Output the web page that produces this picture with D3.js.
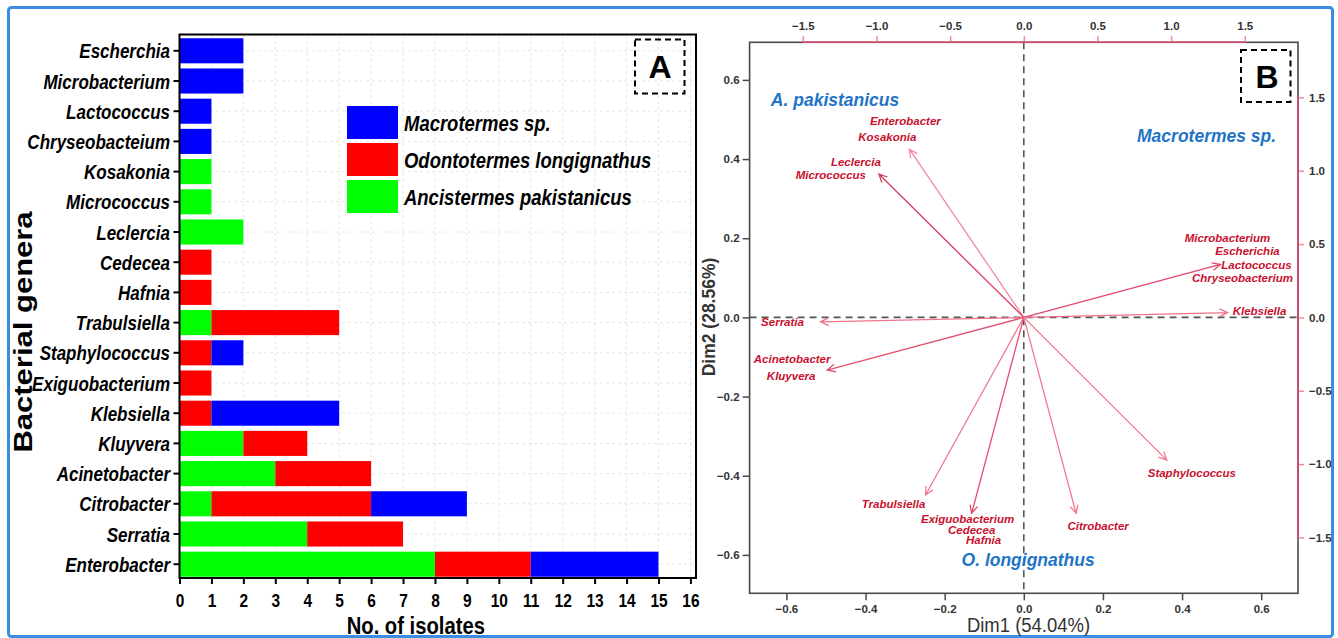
<!DOCTYPE html>
<html><head><meta charset="utf-8">
<script src="https://cdn.jsdelivr.net/npm/d3@7"></script>
<style>
html,body{margin:0;padding:0;background:#fff;}
svg{display:block;}
</style></head><body>
<svg id="chart" width="1338" height="638"></svg>
<script>
// ---------- Panel A: isolates per genus, stacked by termite host ----------
const genera = ["Escherchia","Microbacterium","Lactococcus","Chryseobacteium","Kosakonia","Micrococcus",
  "Leclercia","Cedecea","Hafnia","Trabulsiella","Staphylococcus","Exiguobacterium","Klebsiella",
  "Kluyvera","Acinetobacter","Citrobacter","Serratia","Enterobacter"];
const ancistermes  = [0,0,0,0,1,1,2,0,0,1,0,0,0,2,3,1,4,8];
const odontotermes = [0,0,0,0,0,0,0,1,1,4,1,1,1,2,3,5,3,3];
const macrotermes  = [2,2,1,1,0,0,0,0,0,0,1,0,4,0,0,3,0,4];
const hostNames = ["Macrotermes sp.","Odontotermes longignathus","Ancistermes pakistanicus"];
const isolateTicks = d3.range(0, 17);

// ---------- Panel B: PCA biplot ----------
const dimTicks = [-0.6,-0.4,-0.2,0.0,0.2,0.4,0.6];
const loadingTicks = [-1.5,-1.0,-0.5,0.0,0.5,1.0,1.5];
const arrowGroups = [["Enterobacter","Kosakonia"],["Leclercia","Micrococcus"],
  ["Microbacterium","Escherichia","Lactococcus","Chryseobacterium"],["Klebsiella"],["Serratia"],
  ["Acinetobacter","Kluyvera"],["Trabulsiella"],["Exiguobacterium","Cedecea","Hafnia"],
  ["Citrobacter"],["Staphylococcus"]];
const loading1 = [-0.777,-0.984, 1.335, 1.383,-1.380,-1.335,-0.667,-0.354, 0.355, 0.971];
const loading2 = [ 1.147, 0.977, 0.361, 0.033,-0.030,-0.359,-1.211,-1.336,-1.336,-0.973];
const hostTags = ["A. pakistanicus","Macrotermes sp.","O. longignathus"];

// layout: label offsets (px) from each arrow tip, per group
const labelOffsets = [
  [[-4,-28],[-22,-12]],
  [[-23,-12],[-48,1]],
  [[7,-26],[27,-13],[36,1],[22,14]],
  [[32,-2]],
  [[-38,0]],
  [[-35,-11],[-36,6]],
  [[-32,9]],
  [[-4,6],[0,17],[12,27]],
  [[22,13]],
  [[25,13]]
];
const arrowColors = ["#f2899d","#d63a5c","#e6456b","#f0728c","#f0728c","#e2506f","#f07a92","#e84a6c","#f07a92","#f07a92"];
// host tag placement in Dim units
const hostTagDim1 = [-0.477, 0.462, 0.011];
const hostTagDim2 = [ 0.549, 0.458,-0.611];

const SANS = "'Liberation Sans',Arial,sans-serif";
const svg = d3.select("#chart");

// text squeezed horizontally (panel A lettering is tall and narrow)
function squeezed(sel, x, y, sx, sy) {
  return sel.attr("x", 0).attr("y", 0)
    .attr("transform", `translate(${x},${y}) scale(${sx},${sy || 1})`);
}

// outer frame
svg.append("rect").attr("x",8.5).attr("y",7.5).attr("width",1324).attr("height",629)
  .attr("rx",3).attr("fill","none").attr("stroke","#3a8ee2").attr("stroke-width",3);

// ================= Panel A =================
const ax = d3.scaleLinear().domain([0,16.2]).range([179.5,696.8]);
const ay = d3.scaleBand().domain(genera).range([35.7,579.3]).paddingInner(0.17).paddingOuter(0.085);
const gA = svg.append("g");

// faint grid
gA.append("g").selectAll("line").data(isolateTicks.slice(1)).join("line")
  .attr("x1",d=>ax(d)).attr("x2",d=>ax(d)).attr("y1",35).attr("y2",577)
  .attr("stroke","#e6e6e6").attr("stroke-width",1).attr("stroke-dasharray","3,3");
gA.append("g").selectAll("line").data(genera).join("line")
  .attr("x1",180).attr("x2",695).attr("y1",d=>ay(d)+ay.bandwidth()/2).attr("y2",d=>ay(d)+ay.bandwidth()/2)
  .attr("stroke","#e6e6e6").attr("stroke-width",1).attr("stroke-dasharray","3,3");

// stacked bars: Ancistermes, then Odontotermes, then Macrotermes
const rows = genera.map((g,i)=>({genus:g, A:ancistermes[i], O:odontotermes[i], M:macrotermes[i]}));
const stack = d3.stack().keys(["A","O","M"])(rows);
const barColors = {A:"#00ff00", O:"#ff0000", M:"#0000ff"};
gA.append("g").selectAll("g").data(stack).join("g").attr("fill",s=>barColors[s.key])
  .selectAll("rect").data(s=>s.filter(d=>d[1]>d[0])).join("rect")
  .attr("x",d=>ax(d[0])).attr("width",d=>ax(d[1])-ax(d[0]))
  .attr("y",d=>ay(d.data.genus)).attr("height",ay.bandwidth());

// frame
gA.append("rect").attr("x",179.5).attr("y",34.5).attr("width",516.5).attr("height",543.5)
  .attr("fill","none").attr("stroke","#000").attr("stroke-width",2);

// y axis
const yAxisA = gA.append("g").attr("transform","translate(179.5,0)")
  .call(d3.axisLeft(ay).tickSize(6).tickPadding(3));
yAxisA.select(".domain").remove();
yAxisA.selectAll("line").attr("stroke","#000").attr("stroke-width",2);
yAxisA.selectAll("text").attr("font-family",SANS).attr("font-size",21).attr("font-weight","bold")
  .attr("font-style","italic").attr("fill","#000").attr("dy","0.36em")
  .each(function(){ squeezed(d3.select(this), -9.5, 0, 0.81); });

// x axis
const xAxisA = gA.append("g").attr("transform","translate(0,578)")
  .call(d3.axisBottom(ax).tickValues(isolateTicks).tickFormat(d3.format("d")).tickSize(6).tickPadding(4));
xAxisA.select(".domain").remove();
xAxisA.selectAll("line").attr("stroke","#000").attr("stroke-width",2);
xAxisA.selectAll("text").attr("font-family",SANS).attr("font-size",18).attr("font-weight","bold")
  .attr("fill","#000").attr("dy","0.71em").each(function(){ squeezed(d3.select(this), 0, 16, 0.86); });

squeezed(gA.append("text"), ax(7.4), 634, 0.88).attr("text-anchor","middle")
  .attr("font-family",SANS).attr("font-size",23).attr("font-weight","bold").text("No. of isolates");
gA.append("text").attr("transform","translate(32,332) rotate(-90) scale(1.24,1)").attr("text-anchor","middle")
  .attr("font-family",SANS).attr("font-size",25).attr("font-weight","bold").text("Bacterial genera");

// legend
const legA = gA.append("g");
const legKeys = ["M","O","A"];
legA.selectAll("rect").data(legKeys).join("rect")
  .attr("x",347).attr("y",(d,i)=>106+i*37).attr("width",51).attr("height",33).attr("fill",d=>barColors[d]);
legA.selectAll("text").data(hostNames).join("text")
  .attr("dy","0.36em").attr("font-family",SANS).attr("font-size",22).attr("font-weight","bold")
  .attr("font-style","italic").text(d=>d)
  .each(function(d,i){ squeezed(d3.select(this), 404, 123+i*37, 0.84); });

// panel tag A
gA.append("rect").attr("x",635).attr("y",39.5).attr("width",49.5).attr("height",54)
  .attr("fill","none").attr("stroke","#000").attr("stroke-width",2).attr("stroke-dasharray","6,4");
gA.append("text").attr("x",660).attr("y",78).attr("text-anchor","middle")
  .attr("font-family",SANS).attr("font-size",32).attr("font-weight","bold").text("A");

// ================= Panel B =================
const bx = d3.scaleLinear().domain([-0.693,0.693]).range([749.6,1298]);
const by = d3.scaleLinear().domain([-0.697,0.695]).range([593.3,42.3]);
const lx = d3.scaleLinear().domain([-1.8615,1.8615]).range([749.6,1298]);
const ly = d3.scaleLinear().domain([-1.8807,1.8753]).range([593.3,42.3]);
const gB = svg.append("g");
const pink = "#d9476a", pinkTick = "#f08aa2", frameGray = "#4a4a4a";

// frame
gB.append("rect").attr("x",749.6).attr("y",42.3).attr("width",548.4).attr("height",551)
  .attr("fill","none").attr("stroke",frameGray).attr("stroke-width",1.6);

// zero lines
gB.append("line").attr("x1",bx(0)).attr("x2",bx(0)).attr("y1",by.range()[1]).attr("y2",by.range()[0])
  .attr("stroke","#555").attr("stroke-width",1.6).attr("stroke-dasharray","7,5");
gB.append("line").attr("x1",bx.range()[0]).attr("x2",bx.range()[1]).attr("y1",by(0)).attr("y2",by(0))
  .attr("stroke","#555").attr("stroke-width",1.6).attr("stroke-dasharray","7,5");

// bottom & left Dim axes
const fmt1 = d3.format(".1f");
const bAxis = gB.append("g").attr("transform","translate(0,593.3)")
  .call(d3.axisBottom(bx).tickValues(dimTicks).tickFormat(fmt1).tickSize(7).tickPadding(5));
const lAxis = gB.append("g").attr("transform","translate(749.6,0)")
  .call(d3.axisLeft(by).tickValues(dimTicks).tickFormat(fmt1).tickSize(7).tickPadding(3));
[bAxis,lAxis].forEach(a=>{
  a.select(".domain").remove();
  a.selectAll("line").attr("stroke",frameGray).attr("stroke-width",1.5);
  a.selectAll("text").attr("font-family",SANS).attr("font-size",11.5).attr("font-weight","bold").attr("fill","#333");
});

// top & right loading axes
const tAxis = gB.append("g").attr("transform","translate(0,42.3)")
  .call(d3.axisTop(lx).tickValues(loadingTicks).tickFormat(fmt1).tickSize(6).tickPadding(6));
const rAxis = gB.append("g").attr("transform","translate(1298,0)")
  .call(d3.axisRight(ly).tickValues(loadingTicks).tickFormat(fmt1).tickSize(6).tickPadding(5));
[tAxis,rAxis].forEach(a=>{
  a.select(".domain").remove();
  a.selectAll("line").attr("stroke",pinkTick).attr("stroke-width",1.5);
  a.selectAll("text").attr("font-family",SANS).attr("font-size",11.5).attr("font-weight","bold").attr("fill","#333");
});
gB.append("line").attr("x1",lx(-1.5)).attr("x2",lx(1.5)).attr("y1",42.3).attr("y2",42.3)
  .attr("stroke",pink).attr("stroke-width",1.6);
gB.append("line").attr("x1",1298).attr("x2",1298).attr("y1",ly(1.5)).attr("y2",ly(-1.5))
  .attr("stroke",pink).attr("stroke-width",1.6);

// axis titles
squeezed(gB.append("text"), 1028.5, 632, 0.88).attr("text-anchor","middle")
  .attr("font-family",SANS).attr("font-size",21).attr("fill","#333").text("Dim1 (54.04%)");
gB.append("text").attr("transform","translate(715,317) rotate(-90)").attr("text-anchor","middle")
  .attr("font-family",SANS).attr("font-size",17.5).attr("font-weight","bold").attr("fill","#333").text("Dim2 (28.56%)");

// loading arrows
const ox = lx(0), oy = ly(0);
const arrows = gB.append("g");
arrowGroups.forEach((names,i)=>{
  const tx = lx(loading1[i]), ty = ly(loading2[i]);
  const ang = Math.atan2(ty-oy, tx-ox), h = 9, sp = 0.45;
  const p = d3.path();
  p.moveTo(ox,oy); p.lineTo(tx,ty);
  p.moveTo(tx - h*Math.cos(ang-sp), ty - h*Math.sin(ang-sp)); p.lineTo(tx,ty);
  p.lineTo(tx - h*Math.cos(ang+sp), ty - h*Math.sin(ang+sp));
  arrows.append("path").attr("d",p.toString()).attr("fill","none")
    .attr("stroke",arrowColors[i]).attr("stroke-width",1.3);
  names.forEach((n,j)=>{
    const o = labelOffsets[i][j];
    arrows.append("text").attr("x",tx+o[0]).attr("y",ty+o[1]).attr("dy","0.35em")
      .attr("text-anchor","middle").attr("font-family",SANS).attr("font-size",11.5)
      .attr("font-weight","bold").attr("font-style","italic").attr("fill","#c8102e").text(n);
  });
});

// host tags
gB.append("g").selectAll("text").data(hostTags).join("text")
  .attr("x",(d,i)=>bx(hostTagDim1[i])).attr("y",(d,i)=>by(hostTagDim2[i])).attr("dy","0.36em")
  .attr("text-anchor","middle").attr("font-family",SANS).attr("font-size",17.5).attr("font-weight","bold")
  .attr("font-style","italic").attr("fill","#1f74c7").text(d=>d);

// panel tag B
gB.append("rect").attr("x",1241).attr("y",50).attr("width",49.5).attr("height",52)
  .attr("fill","none").attr("stroke","#000").attr("stroke-width",2).attr("stroke-dasharray","6,4");
gB.append("text").attr("x",1267).attr("y",88).attr("text-anchor","middle")
  .attr("font-family",SANS).attr("font-size",32).attr("font-weight","bold").text("B");
</script>
</body></html>
